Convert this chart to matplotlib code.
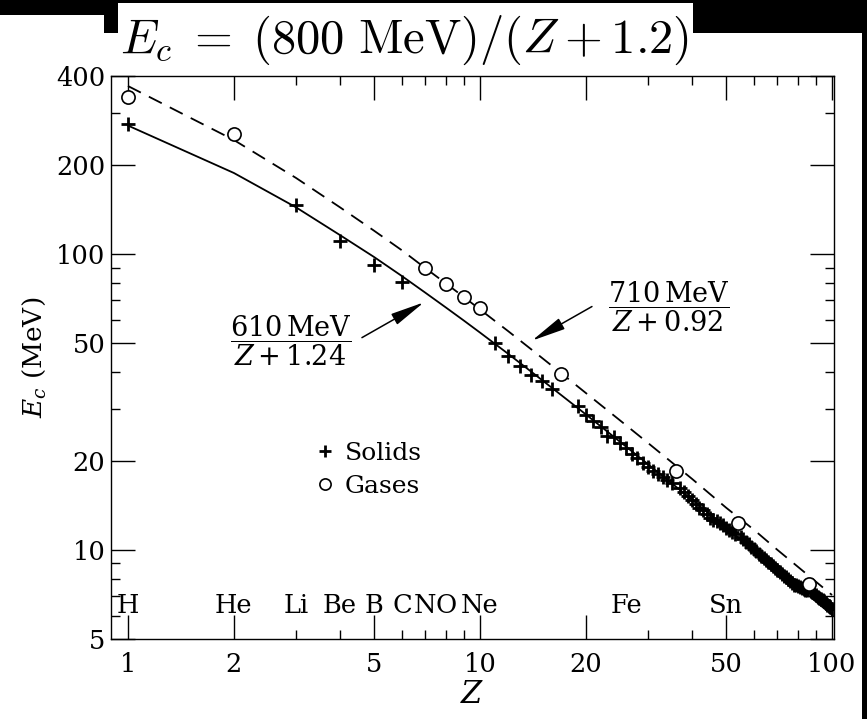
import matplotlib
matplotlib.use("Agg")
import matplotlib.pyplot as plt
from matplotlib.patches import Rectangle

plt.rcParams['font.family'] = ['DejaVu Serif']
plt.rcParams['mathtext.fontset'] = 'dejavuserif'

# critical energy data
solids_z = [1, 3, 4, 5, 6, 11, 12, 13, 14, 15, 16, 19, 20, 21, 22, 23,
            24, 25, 26, 27, 28, 29, 30, 31, 32, 33, 34, 35, 37, 38, 39, 40,
            41, 42, 43, 44, 45, 46, 47, 48, 49, 50, 51, 52, 53, 55, 56, 57,
            58, 59, 60, 61, 62, 63, 64, 65, 66, 67, 68, 69, 70, 71, 72, 73,
            74, 75, 76, 77, 78, 79, 80, 81, 82, 83, 84, 85, 87, 88, 89, 90,
            91, 92, 93, 94, 95, 96, 97, 98, 99, 100]
solids_e = [275, 146, 111, 92, 80.7, 50.1, 45.3, 41.9, 39.1, 37.3, 35.1, 30.7, 28.6, 27.3, 26.0, 24.3,
            24.0, 22.9, 22.1, 21.1, 20.4, 19.7, 19.0, 18.5, 18.0, 17.6, 17.2, 16.9, 16.2, 15.7, 15.2, 14.8,
            14.3, 13.9, 13.6, 13.2, 12.8, 12.6, 12.5, 12.3, 12.1, 11.9, 11.65, 11.5, 11.3, 11.07, 10.86, 10.65,
            10.44, 10.24, 10.08, 9.89, 9.70, 9.55, 9.40, 9.22, 9.08, 8.94, 8.80, 8.66, 8.53, 8.40, 8.30, 8.17,
            8.07, 7.95, 7.86, 7.74, 7.64, 7.59, 7.53, 7.50, 7.44, 7.38, 7.33, 7.30, 7.27, 7.21, 7.13, 7.05,
            6.94, 6.86, 6.80, 6.75, 6.70, 6.62, 6.54, 6.47, 6.39, 6.32]

gases_z = [1, 2, 7, 8, 9, 10, 17, 36, 54, 86]
gases_e = [340, 254, 90, 79.4, 71.8, 65.5, 39.4, 18.5, 12.35, 7.67]

# fitted curves (610 MeV/(Z+1.24) solid, 710 MeV/(Z+0.92) dashed)
fit_z = [1, 2, 3, 4, 5, 6, 7, 8, 9, 10, 12, 14, 17, 20, 25, 30, 40, 50, 60, 70, 80, 90, 100]
fit_solid = [272, 188, 144, 116, 97.8, 84.3, 74.0, 66.0, 59.6, 54.3, 46.1, 40.0, 33.4, 28.7,
             23.2, 19.5, 14.8, 11.9, 9.96, 8.56, 7.51, 6.69, 6.03]
fit_gas = [370, 243, 181, 144, 120, 103, 89.6, 79.6, 71.6, 65.0, 55.0, 47.6, 39.6, 33.9,
           27.4, 23.0, 17.4, 13.9, 11.7, 10.0, 8.77, 7.81, 7.04]

elem_names = ["H", "He", "Li", "Be", "B", "C", "N", "O", "Ne", "Fe", "Sn"]
elem_z = [1, 2, 3, 4, 5, 6, 7, 8, 10, 26, 50]

xticks = [1, 2, 5, 10, 20, 50, 100]
xminor = [3, 4, 6, 7, 8, 9, 30, 40, 60, 70, 80, 90]
yticks = [5, 10, 20, 50, 100, 200, 400]
yminor = [6, 7, 8, 9, 30, 40, 60, 70, 80, 90, 300]

W, H = 867, 719
fig = plt.figure(figsize=(W / 100, H / 100), dpi=100)
fig.patch.set_facecolor("white")


def px(x, y, w, h):
    # pixel box (top-left origin) -> figure fraction rectangle
    return Rectangle((x / W, 1 - (y + h) / H), w / W, h / H, transform=fig.transFigure,
                     facecolor="black", edgecolor="none", zorder=0)


for r in [(0, 0, 867, 3), (0, 0, 118, 15), (104, 0, 14, 33), (693, 0, 174, 33), (862, 0, 5, 719)]:
    fig.patches.append(px(*r))

ax = fig.add_axes([111 / W, 1 - 639 / H, 723 / W, 563 / H])
ax.set_xscale("log")
ax.set_yscale("log")
ax.set_xlim(0.895, 101.3)
ax.set_ylim(5, 400)

ax.plot(fit_z, fit_solid, color="black", lw=1.3, zorder=2)
ax.plot(fit_z, fit_gas, color="black", lw=1.3, dashes=(8, 5), zorder=2)
ax.plot(solids_z, solids_e, ls="none", marker="+", ms=10, mew=2.0, color="black",
        label="Solids", zorder=3)
ax.plot(gases_z, gases_e, ls="none", marker="o", ms=9.5, mew=1.2, mfc="white", mec="black",
        label="Gases", zorder=4)

for name, z in zip(elem_names, elem_z):
    ax.text(z, 6.12, name, ha="center", va="baseline", fontsize=18.5)

ax.set_xticks(xticks)
ax.set_xticklabels([str(t) for t in xticks])
ax.set_xticks(xminor, minor=True)
ax.set_xticklabels([], minor=True)
ax.set_yticks(yticks)
ax.set_yticklabels([str(t) for t in yticks])
ax.set_yticks(yminor, minor=True)
ax.set_yticklabels([], minor=True)
ax.tick_params(which="both", direction="in", top=True, right=True, width=1.0, labelsize=18.5)
ax.tick_params(which="major", length=17)
ax.tick_params(which="minor", length=6.5)
ax.tick_params(axis="x", pad=9)
ax.tick_params(axis="y", pad=4)
for s in ax.spines.values():
    s.set_linewidth(1.0)

ax.set_xlabel("$Z$", fontsize=22, labelpad=2)
ax.set_ylabel("$E_c$ (MeV)", fontsize=19, labelpad=6)

arrow_style = dict(arrowstyle="-|>,head_length=1.4,head_width=0.25", color="black",
                   lw=1.1, mutation_scale=15, shrinkA=0, shrinkB=0)
ax.text(2.9, 51.0, r"$\dfrac{610\,\mathrm{MeV}}{Z+1.24}$", ha="center", va="center", fontsize=19.5)
ax.annotate("", xy=(6.93, 68.7), xytext=(4.62, 52.2), arrowprops=arrow_style)
ax.text(34.4, 66.5, r"$\dfrac{710\,\mathrm{MeV}}{Z+0.92}$", ha="center", va="center", fontsize=19.5)
ax.annotate("", xy=(14.05, 51.0), xytext=(20.8, 66.5), arrowprops=arrow_style)

ax.legend(loc="center left", bbox_to_anchor=(0.263, 0.30), frameon=False, fontsize=18,
          handlelength=0.9, handletextpad=0.35, labelspacing=0.4, borderpad=0,
          markerscale=0.85)

fig.text(120 / W, 1 - 53 / H, r"$E_c\;=\;(800\ \mathrm{MeV})/(Z + 1.2)$", fontsize=35,
         math_fontfamily="cm", ha="left", va="baseline")

fig.savefig("out.png", dpi=100)
